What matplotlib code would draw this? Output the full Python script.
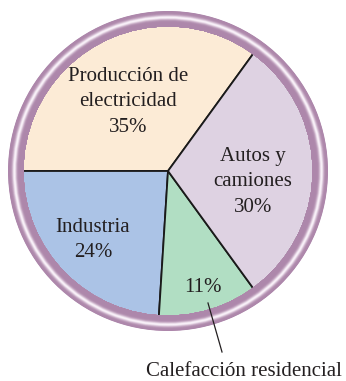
import numpy as np
import matplotlib.pyplot as plt
from matplotlib.patches import Wedge

labels = ["Producción de\nelectricidad", "Industria", "", "Autos y\ncamiones"]
shares = [35, 24, 11, 30]
colors = ["#fcebd6", "#abc3e6", "#b1dec3", "#ded2e2"]

# label positions (pixels from top-left) for each slice's text
label_xy = [(128, 102), (93, 240), (203, 287), (253, 182)]

W, H = 346, 381
cx, cy = 168, H - 171
r_pie = 146
r_ring = 160

fig = plt.figure(figsize=(W / 100, H / 100), dpi=100)
ax = fig.add_axes([0, 0, 1, 1])

plt.rcParams["font.family"] = "Liberation Serif"
ink = "#231f20"

ax.pie(shares, colors=colors, startangle=54, counterclock=True,
       center=(cx, cy), radius=r_pie, frame=True,
       wedgeprops=dict(edgecolor="#1a1a1a", linewidth=1.3))
ax.set_xlim(0, W)
ax.set_ylim(0, H)
ax.axis("off")

# purple rim with a light highlight running through it
purple = np.array([0.68, 0.53, 0.67])
light = np.array([0.98, 0.95, 0.98])
radii = np.linspace(r_ring, r_pie + 0.5, 40)
for r in radii:
    t = (r - r_pie) / (r_ring - r_pie)
    f = np.exp(-((t - 0.55) / 0.16) ** 2)
    c = purple * (1 - f) + light * f
    ax.add_patch(Wedge((cx, cy), r, 0, 360, width=r - r_pie + 1.5,
                       facecolor=c, edgecolor="none", zorder=5))

for (lx, ly), lab, pct in zip(label_xy, labels, shares):
    txt = f"{lab}\n{pct}%" if lab else f"{pct}%"
    ax.text(lx, H - ly, txt, ha="center", va="center", fontsize=15,
            color=ink, linespacing=1.45, zorder=6)

# leader line for the residential heating slice
ax.plot([208, 222], [H - 303, H - 352], color=ink, linewidth=0.9, zorder=6)
ax.text(244, H - 372, "Calefacción residencial", ha="center", va="center",
        fontsize=15, color=ink, zorder=6)

fig.savefig("out.png", dpi=100)
